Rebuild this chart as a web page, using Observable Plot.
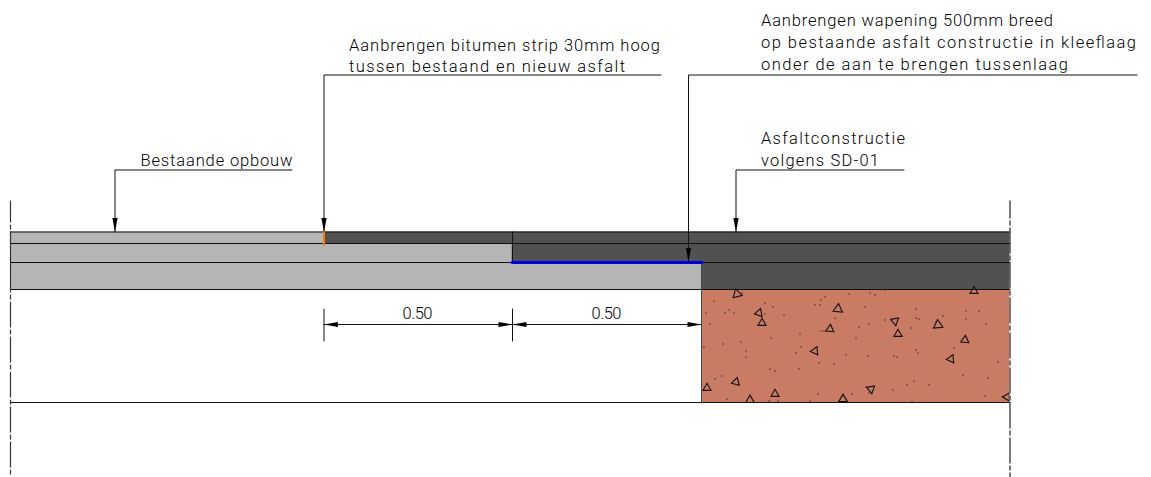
<!DOCTYPE html>
<html><head><meta charset="utf-8">
<script src="https://cdn.jsdelivr.net/npm/d3@7"></script>
<script src="https://cdn.jsdelivr.net/npm/@observablehq/plot@0.6"></script>
<style>html,body{margin:0;padding:0;background:#fff}svg{display:block}</style>
</head><body><div id="chart"></div>
<script>
// All values are drawing units.
const layerRects = [
  {x1:10.5,x2:324,y1:232,y2:244,fill:"#b5b5b5"},
  {x1:10.5,x2:512,y1:244,y2:263,fill:"#b5b5b5"},
  {x1:10.5,x2:702,y1:263,y2:290,fill:"#b5b5b5"},
  {x1:324,x2:1010,y1:232,y2:244,fill:"#515151"},
  {x1:512,x2:1010,y1:244,y2:263,fill:"#515151"},
  {x1:702,x2:1010,y1:263,y2:290,fill:"#515151"}
];
const soilRect = [{x1:702,x2:1010,y1:290,y2:403}];
const maskRects = [
  {x1:702,x2:1020,y1:403.5,y2:412},
  {x1:1010,x2:1020,y1:285,y2:412}
];
const solidLines = [
  [[10.5,232],[1010,232]],
  [[10.5,243.5],[1010,243.5]],
  [[10.5,262.5],[1010,262.5]],
  [[10.5,289.5],[1010,289.5]],
  [[10.5,402.5],[1010,402.5]],
  [[10.5,232],[10.5,290]],
  [[512.5,232],[512.5,263]],
  [[324,232],[324,75],[661,75]],
  [[115,232],[115,170],[292,170]],
  [[688.5,262],[688.5,75],[1137,75]],
  [[736,232],[736,170],[904,170]],
  [[324,324.5],[701,324.5]],
  [[324,309],[324,341]],
  [[512.5,309],[512.5,341]],
  [[701.5,310],[701.5,340]]
];
const soilEdge = [[701.5,263],[701.5,403]];
const leftCentre = [[10.5,201],[10.5,477]];
const rightCentre = [[1010,201],[1010,477]];
const orangeStrip = [[324,232],[324,245]];
const blueStrip = [[512,262.5],[702,262.5]];
const arrowTips = [
  {x:115,y:232,rotate:0},{x:324,y:232,rotate:0},{x:688.5,y:262,rotate:0},{x:736,y:232,rotate:0},
  {x:324,y:324.5,rotate:90},{x:512.5,y:324.5,rotate:-90},{x:512.5,y:324.5,rotate:90},{x:701.5,y:324.5,rotate:-90}
];
const triangles = [
  {x:737,y:294,r:6.2,rotate:-15},{x:838,y:309,r:6.2,rotate:5},{x:759,y:313,r:4.6,rotate:-100},
  {x:762,y:323,r:4.6,rotate:0},{x:830,y:329,r:4.6,rotate:5},{x:895,y:321,r:4.6,rotate:-70},
  {x:898,y:334,r:4.6,rotate:0},{x:938,y:325,r:6.2,rotate:-5},{x:965,y:340,r:4.6,rotate:5},
  {x:974,y:291,r:4.6,rotate:120},{x:815,y:351,r:4.6,rotate:-95},{x:951,y:359,r:4.6,rotate:-95},
  {x:736,y:382,r:4.6,rotate:-105},{x:707,y:388,r:4.6,rotate:0},{x:775,y:394,r:4.6,rotate:0},
  {x:750,y:400,r:5,rotate:0},{x:843,y:399,r:5,rotate:0},{x:871,y:389,r:4.6,rotate:-70},
  {x:1007,y:397,r:4.6,rotate:-90}
];
const specks = [[714,301],[742,293],[765,303],[773,307],[825,297],[821,300],[815,305],[820,305],[849,294],[870,293],[875,295],[885,290],[706,313],[725,313],[729,310],[734,313],[765,314],[784,315],[835,318],[865,307],[710,324],[916,309],[966,311],[979,311],[966,319],[916,318],[919,319],[885,320],[943,316],[936,322],[911,328],[869,324],[859,327],[821,331],[824,331],[986,324],[800,334],[771,338],[856,338],[723,344],[741,342],[704,347],[746,351],[746,357],[801,347],[796,353],[846,355],[868,356],[894,356],[897,357],[916,350],[918,353],[954,348],[819,363],[834,364],[998,362],[770,369],[775,371],[799,369],[715,379],[722,376],[963,375],[988,378],[914,381],[907,385],[929,385],[893,390],[866,387],[869,393],[852,394],[818,394],[727,399],[769,401],[778,401],[810,401],[985,396],[912,402]];
const labelTexts = ["Aanbrengen wapening 500mm breed","op bestaande asfalt constructie in kleeflaag","onder de aan te brengen tussenlaag","Aanbrengen bitumen strip 30mm hoog","tussen bestaand en nieuw asfalt","Bestaande opbouw","Asfaltconstructie","volgens SD-01","0.50","0.50"];
const labelX = [761,761,761,349,349,140.5,761,761,402.5,591.5];
const labelBaseline = [26,47.5,70,51,72,165.5,144,165.5,318.5,318.5];
const labelWidths = [292,375,307,311,276,152,144,118,30,30];
const labels = labelTexts.map((text,i)=>({text,x:labelX[i],y:labelBaseline[i]}));

const arrowHead = {draw(c){c.moveTo(0,0);c.lineTo(-2.6,-14);c.lineTo(2.6,-14);c.closePath();}};
const lineMark = (pts, o) => Plot.line(pts, {x:d=>d[0], y:d=>d[1], ...o});

const chart = Plot.plot({
  width:1151, height:477, margin:0,
  x:{domain:[0,1151], range:[-0.5,1150.5], axis:null},
  y:{domain:[0,477], range:[-0.5,476.5], axis:null},
  style:{background:"#fff", fontFamily:"Roboto", fontWeight:300},
  marks:[
    Plot.rect(layerRects,{x1:"x1",x2:"x2",y1:"y1",y2:"y2",fill:"fill"}),
    Plot.rect(soilRect,{x1:"x1",x2:"x2",y1:"y1",y2:"y2",fill:"#c97b64"}),
    Plot.dot(triangles,{x:"x",y:"y",r:"r",rotate:"rotate",symbol:"triangle",fill:"none",stroke:"#111",strokeWidth:1.1}),
    Plot.dot(specks,{x:d=>d[0],y:d=>d[1],r:0.7,fill:"#222"}),
    Plot.rect(maskRects,{x1:"x1",x2:"x2",y1:"y1",y2:"y2",fill:"#fff"}),
    ...solidLines.map(p=>lineMark(p,{stroke:"#111",strokeWidth:1})),
    lineMark(soilEdge,{stroke:"#444",strokeWidth:1}),
    lineMark(leftCentre,{stroke:"#333",strokeWidth:1.2,strokeDasharray:"25,3,4,3",strokeDashoffset:4}),
    lineMark(rightCentre,{stroke:"#444",strokeWidth:1.4,strokeDasharray:"25,3,4,3",strokeDashoffset:8}),
    lineMark(orangeStrip,{stroke:"#f57c00",strokeWidth:2}),
    lineMark(blueStrip,{stroke:"#0000e0",strokeWidth:3}),
    Plot.dot(arrowTips,{x:"x",y:"y",rotate:"rotate",symbol:arrowHead,r:3,fill:"#000",stroke:"none"}),
    Plot.text(labels,{x:"x",y:"y",text:"text",textAnchor:"start",lineAnchor:"bottom",fontSize:16.5,fill:"#000"})
  ]
});
const labelNodes = chart.querySelectorAll('g[aria-label="text"] text');
labelNodes.forEach((n,i)=>{n.setAttribute("textLength",labelWidths[i]);n.setAttribute("lengthAdjust","spacing");});
document.getElementById("chart").append(chart);
</script></body></html>
